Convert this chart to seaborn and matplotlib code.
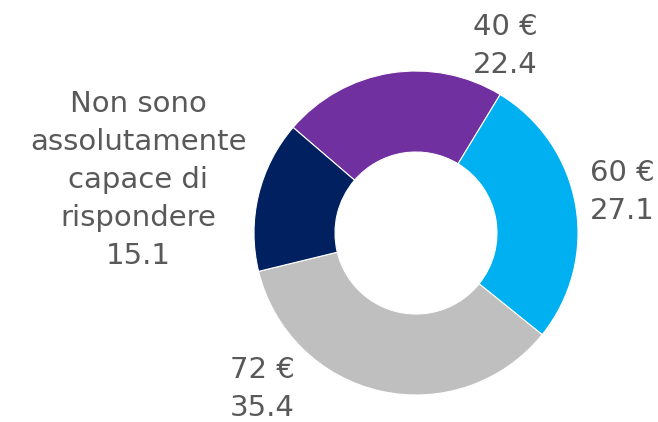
import matplotlib
matplotlib.use("Agg")
import matplotlib.pyplot as plt
import seaborn as sns

categories = ["40 €", "60 €", "72 €", "Non sono\nassolutamente\ncapace di\nrispondere"]
values = [22.4, 27.1, 35.4, 15.1]
colors = ["#7030A0", "#00B0F0", "#BFBFBF", "#002060"]

sns.set_theme(style="white")
plt.rcParams['font.family'] = ['DejaVu Sans']

W, H = 658, 422
fig = plt.figure(figsize=(W / 100, H / 100), dpi=100)
ax = fig.add_axes([0, 0, 1, 1])

cx, cy, R = 416, H - 233, 162
start = 58.7 + values[0] / 100 * 360
wedges, _ = ax.pie(values, colors=colors, startangle=start, counterclock=False,
                   radius=R, center=(cx, cy),
                   wedgeprops=dict(width=R * 0.5, edgecolor="white", linewidth=0.8))
ax.set_xlim(0, W)
ax.set_ylim(0, H)
ax.set_aspect("equal")
ax.axis("off")

label_pos = [(505, H - 46), (622, H - 192), (262, H - 389), (138, H - 180)]
for cat, v, (x, y) in zip(categories, values, label_pos):
    ax.text(x, y, f"{cat}\n{v:.1f}", ha="center", va="center", fontsize=21,
            color="#595959", linespacing=1.45)

fig.savefig("out.png", dpi=100)
